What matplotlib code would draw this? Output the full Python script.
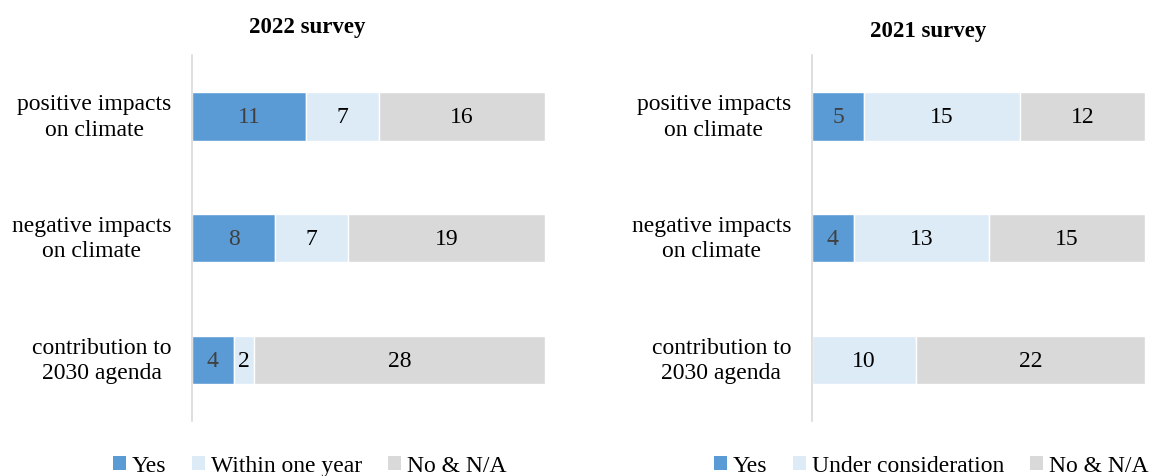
import matplotlib
matplotlib.use("Agg")
import matplotlib.pyplot as plt
from matplotlib.patches import Patch
import numpy as np

plt.rcParams["font.family"] = ["Liberation Serif", "DejaVu Serif"]

categories = ["positive impacts\non climate", "negative impacts\non climate",
              "contribution to\n2030 agenda"]

# 2022 survey
yes_2022 = [11, 8, 4]
within_2022 = [7, 7, 2]
no_2022 = [16, 19, 28]
labels_2022 = ["Yes", "Within one year", "No & N/A"]

# 2021 survey
yes_2021 = [5, 4, 0]
under_2021 = [15, 13, 10]
no_2021 = [12, 15, 22]
labels_2021 = ["Yes", "Under consideration", "No & N/A"]

colors = ["#5b9bd5", "#ddebf7", "#d9d9d9"]
text_colors = ["#404040", "black", "black"]
FS = 17


def draw_panel(ax, series, total):
    y = np.arange(len(categories))
    left = np.zeros(len(categories))
    for vals, c, tc in zip(series, colors, text_colors):
        vals = np.array(vals, dtype=float)
        ax.barh(y, vals, left=left, height=0.4, color=c,
                edgecolor="white", linewidth=1)
        for yi, v, l in zip(y, vals, left):
            if v > 0:
                ax.text(l + v / 2, yi, f"{int(v)}", ha="center", va="center",
                        fontsize=FS, color=tc)
        left += vals
    ax.set_ylim(2.5, -0.5)
    ax.set_xlim(0, total)
    ax.set_yticks(y)
    ax.set_yticklabels(categories, fontsize=FS, multialignment="center",
                       linespacing=1.3, va="center")
    ax.tick_params(axis="y", length=0, pad=15)
    ax.set_xticks([])
    for s in ["top", "right", "bottom"]:
        ax.spines[s].set_visible(False)
    ax.spines["left"].set_color("#d9d9d9")
    ax.spines["left"].set_linewidth(1.2)


fig = plt.figure(figsize=(11.54, 4.77), dpi=100)
ax1 = fig.add_axes([0.1664, 0.1153, 0.3059, 0.767])
ax2 = fig.add_axes([0.7036, 0.1153, 0.2886, 0.767])

draw_panel(ax1, [yes_2022, within_2022, no_2022], 34)
draw_panel(ax2, [yes_2021, under_2021, no_2021], 32)

fig.text(307 / 1154, 1 - 28 / 477, "2022 survey", ha="center", va="center",
         fontsize=16.5, fontweight="bold")
fig.text(928 / 1154, 1 - 32 / 477, "2021 survey", ha="center", va="center",
         fontsize=16.5, fontweight="bold")

for labels, cx in [(labels_2022, 310 / 1154), (labels_2021, 931 / 1154)]:
    handles = [Patch(facecolor=c, edgecolor="none") for c in colors]
    fig.legend(handles, labels, loc="center", bbox_to_anchor=(cx, 1 - 467 / 477),
               ncol=3, frameon=False, fontsize=FS, handlelength=0.55,
               handleheight=0.55, handletextpad=0.25, columnspacing=1.1,
               borderpad=0.1)

fig.savefig("out.png", dpi=100)
